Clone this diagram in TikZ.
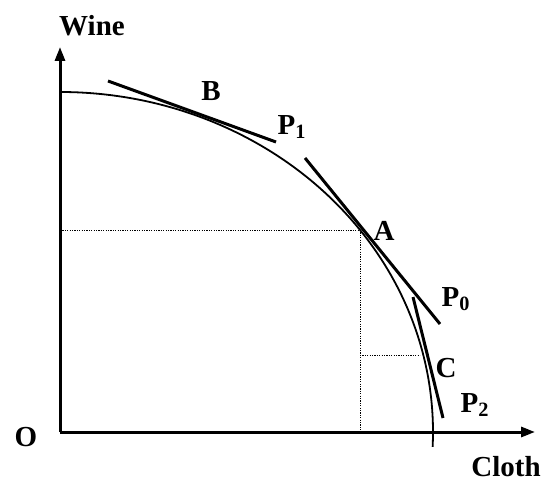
\documentclass[tikz,border=0pt]{standalone}
\usepackage{fontspec}
\setmainfont{Liberation Serif}
\usetikzlibrary{arrows.meta}
\begin{document}
\begin{tikzpicture}[
  x=0.5pt, y=0.5pt,
  every node/.style={font=\fontsize{14.5}{17}\selectfont\bfseries, inner sep=0pt},
  axis/.style={line width=1.5pt, -{Triangle[length=7pt,width=5pt]}},
  tangent/.style={line width=1.5pt},
  frontier/.style={line width=0.9pt},
  guide/.style={line width=0.4pt, dash pattern=on 0.6pt off 0.6pt}
]
\useasboundingbox (0,0) rectangle (549,481);
% axes
\coordinate (O) at (60,49);
\coordinate (ytop) at (60,434);
\coordinate (xend) at (535,49);
\draw[axis] (O) -- (ytop);
\draw[axis] (O) -- (xend);
\node (wine) at (92,455) {Wine};
\node (cloth) at (506,14) {Cloth};
\node (o) at (26,44) {O};
% production frontier
\draw[frontier] (60,389) arc[start angle=90, end angle=-2.5, x radius=373, y radius=340];
% points on the frontier
\coordinate (A) at (360,251);
\coordinate (C) at (420,126);
\coordinate (Ay) at (60,251);
\coordinate (Ax) at (360,49);
\coordinate (Cy) at (360,126);
\draw[guide] (Ay) -- (A) -- (Ax);
\draw[guide] (Cy) -- (C);
% price lines
\coordinate (p1a) at (108,400);
\coordinate (p1b) at (276,339);
\coordinate (p0a) at (305,323);
\coordinate (p0b) at (440,157);
\coordinate (p2a) at (413,184);
\coordinate (p2b) at (443,63);
\draw[tangent] (p1a) -- (p1b);
\draw[tangent] (p0a) -- (p0b);
\draw[tangent] (p2a) -- (p2b);
% labels
\node (lb) at (211,390) {B};
\node (lp1) at (292,354) {P\textsubscript{1}};
\node (la) at (384,250) {A};
\node (lp0) at (456,182) {P\textsubscript{0}};
\node (lc) at (446,113) {C};
\node (lp2) at (475,76) {P\textsubscript{2}};
\end{tikzpicture}
\end{document}
